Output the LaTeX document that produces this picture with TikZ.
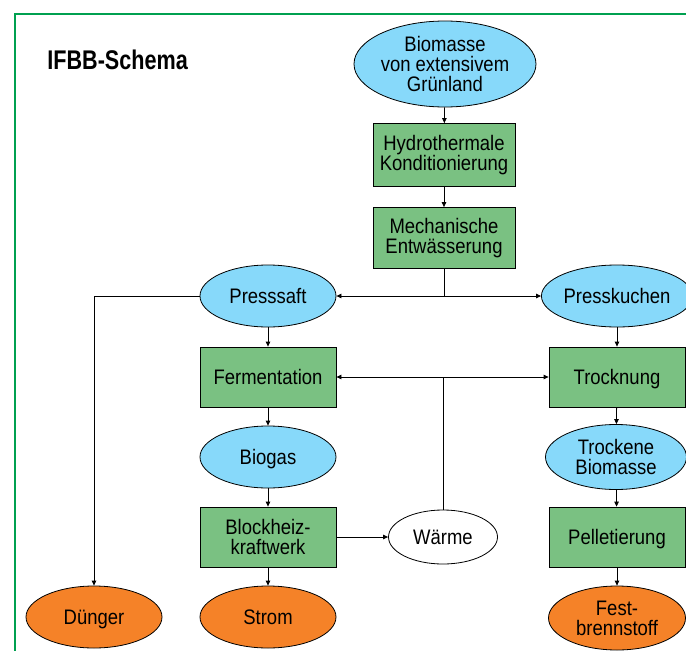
\documentclass[tikz,border=0pt]{standalone}
\usepackage{fontspec}
\setmainfont{Liberation Sans}[FakeStretch=0.88]
\newfontfamily\titlefont{Liberation Sans}[FakeStretch=0.8]
\usepackage{tikz}
\usetikzlibrary{shapes, arrows.meta, positioning, calc}
\definecolor{framegreen}{RGB}{0, 160, 80}
\definecolor{stepgreen}{RGB}{122, 193, 130}
\definecolor{flowblue}{RGB}{135, 217, 250}
\definecolor{endorange}{RGB}{245, 130, 40}

\begin{document}
\begin{tikzpicture}[x=1pt, y=-1pt,
  every node/.style={font=\fontsize{21}{20}\selectfont, align=center, inner sep=0pt, line width=0.8pt},
  oneline/.style={text height=15pt, text depth=0pt},
  stepbox/.style={draw, fill=stepgreen, rectangle, minimum width=136pt, minimum height=60pt},
  flow/.style={draw, fill=flowblue, ellipse, minimum width=136pt, minimum height=62pt},
  product/.style={draw, fill=endorange, ellipse, minimum width=136pt, minimum height=62pt},
  link/.style={line width=0.8pt, -{Triangle[length=5pt, width=4.5pt]}}]
  \useasboundingbox (0,0) rectangle (686,651);

  % Frame and title
  \draw[framegreen, line width=1.5pt] (15,651) -- (15,14) -- (686,14);
  \node[anchor=west, font=\fontsize{27}{27}\titlefont\bfseries] (title) at (47,60) {IFBB-Schema};

  % Main chain
  \node[flow, minimum width=182pt, minimum height=86pt] (biomass) at (445,64) {Biomasse\\von extensivem\\Grünland};
  \node[stepbox, minimum width=142pt, minimum height=63pt] (hydro) at (444,155) {Hydrothermale\\Konditionierung};
  \node[stepbox, minimum width=142pt, minimum height=61pt] (mech) at (444,238) {Mechanische\\Entwässerung};

  % Left branch
  \node[flow, oneline] (juice) at (268,296) {Presssaft};
  \node[stepbox, oneline] (ferm) at (268,377) {Fermentation};
  \node[flow, oneline] (biogas) at (268,457) {Biogas};
  \node[stepbox] (chp) at (268,537) {Blockheiz-\\kraftwerk};
  \node[product, oneline] (power) at (268,617) {Strom};
  \node[product, oneline] (fert) at (94,617) {Dünger};
  \node[draw, fill=white, ellipse, oneline, minimum width=109pt, minimum height=54pt] (heat) at (443,537) {Wärme};

  % Right branch
  \node[flow, oneline] (cake) at (617,296) {Presskuchen};
  \node[stepbox, oneline] (dry) at (617,377) {Trocknung};
  \node[flow, minimum width=141pt, minimum height=65pt] (drybio) at (616,457) {Trockene\\Biomasse};
  \node[stepbox, oneline] (pellet) at (617,537) {Pelletierung};
  \node[product, minimum width=137pt, minimum height=64pt] (fuel) at (617,618) {Fest-\\brennstoff};

  % Connectors
  \coordinate (split) at (444,296);
  \coordinate (heatsplit) at (443,377);
  \coordinate (fertknee) at (94,296);

  \draw[link] (biomass) -- (hydro);
  \draw[link] (hydro) -- (mech);
  \draw[line width=0.8pt] (mech) -- (split);
  \draw[link] (split) -- (juice);
  \draw[link] (split) -- (cake);
  \draw[link] (juice.west) -- (fertknee) -- (fert);
  \draw[link] (juice) -- (ferm);
  \draw[link] (ferm) -- (biogas);
  \draw[link] (biogas) -- (chp);
  \draw[link] (chp) -- (power);
  \draw[link] (chp) -- (heat);
  \draw[line width=0.8pt] (heat) -- (heatsplit);
  \draw[link] (heatsplit) -- (ferm);
  \draw[link] (heatsplit) -- (dry);
  \draw[link] (cake) -- (dry);
  \draw[link] (dry) -- (drybio);
  \draw[link] (drybio) -- (pellet);
  \draw[link] (pellet) -- (fuel);
\end{tikzpicture}
\end{document}
